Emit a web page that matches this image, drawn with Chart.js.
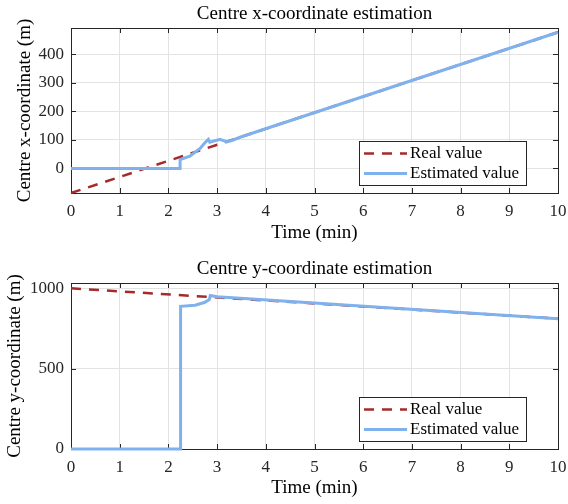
<!DOCTYPE html>
<html>
<head>
<meta charset="utf-8">
<script src="https://cdn.jsdelivr.net/npm/chart.js@4.4.0/dist/chart.umd.min.js"></script>
<style>
  body { margin: 0; background: #fff; }
  .plot { position: absolute; left: 0; width: 568px; height: 252px; }
</style>
</head>
<body>
<div class="plot" style="top:0"><canvas id="xChart" width="568" height="252"></canvas></div>
<div class="plot" style="top:252px"><canvas id="yChart" width="568" height="252"></canvas></div>
<script>
// time axis (minutes)
var timeTicks = [0, 1, 2, 3, 4, 5, 6, 7, 8, 9, 10];

// real trajectory of the centre (straight line)
var realTime = [0, 10];
var realX = [-86, 477];
var realY = [1000, 811];

// estimator output for x
var estTimeX = [0, 2.24, 2.24, 2.44, 2.65, 2.75, 2.82, 2.85, 3.06, 3.2, 3.3, 3.5, 10];
var estX = [0, 0, 31, 43, 70, 90, 102, 92, 102, 93, 98, 111, 477];

// estimator output for y
var estTimeY = [0, 2.25, 2.25, 2.55, 2.75, 2.84, 2.86, 3.0, 10];
var estY = [0, 0, 888, 895, 913, 930, 955, 947, 811];

var xCoordTicks = [0, 100, 200, 300, 400];
var yCoordTicks = [0, 500, 1000];

var serif = '"Liberation Serif", "Times New Roman", serif';
var axisColor = '#262626';

function pairs(ts, vs) {
  return ts.map(function(t, i) { return { x: t, y: vs[i] }; });
}

// box, inward ticks on all four sides and the title
var framePlugin = {
  id: 'frame',
  beforeDatasetsDraw: function(chart) {
    var a = chart.chartArea, ctx = chart.ctx;
    var xs = chart.scales.x, ys = chart.scales.y;
    ctx.save();
    ctx.strokeStyle = axisColor;
    ctx.lineWidth = 1;
    ctx.strokeRect(Math.round(a.left) + 0.5, Math.round(a.top) + 0.5,
      Math.round(a.right - a.left), Math.round(a.bottom - a.top));
    ctx.beginPath();
    xs.ticks.forEach(function(t) {
      var px = Math.round(xs.getPixelForValue(t.value)) + 0.5;
      ctx.moveTo(px, a.bottom); ctx.lineTo(px, a.bottom - 5);
      ctx.moveTo(px, a.top); ctx.lineTo(px, a.top + 5);
    });
    ys.ticks.forEach(function(t) {
      var py = Math.round(ys.getPixelForValue(t.value)) + 0.5;
      ctx.moveTo(a.left, py); ctx.lineTo(a.left + 5, py);
      ctx.moveTo(a.right, py); ctx.lineTo(a.right - 5, py);
    });
    ctx.stroke();
    var title = chart.options.plugins.frame.title;
    ctx.fillStyle = '#000';
    ctx.font = '19px ' + serif;
    ctx.textAlign = 'center';
    ctx.textBaseline = 'middle';
    ctx.fillText(title, (a.left + a.right) / 2, a.top - 14);
    ctx.restore();
  }
};

// boxed legend in the lower right corner of the plot area
var boxLegend = {
  id: 'boxLegend',
  afterDraw: function(chart) {
    var a = chart.chartArea, ctx = chart.ctx;
    var w = 167, h = 44;
    var right = Math.round(a.right) - 32, bottom = Math.round(a.bottom) - 8;
    var left = right - w, top = bottom - h;
    ctx.save();
    ctx.fillStyle = '#fff';
    ctx.fillRect(left, top, w, h);
    ctx.strokeStyle = axisColor;
    ctx.lineWidth = 1;
    ctx.strokeRect(left + 0.5, top + 0.5, w, h);
    ctx.font = '17px ' + serif;
    ctx.textBaseline = 'middle';
    chart.data.datasets.forEach(function(ds, i) {
      var y = top + 12.5 + i * 20;
      ctx.strokeStyle = ds.borderColor;
      ctx.lineWidth = ds.borderWidth;
      ctx.setLineDash(ds.borderDash || []);
      ctx.beginPath();
      ctx.moveTo(left + 5, y);
      ctx.lineTo(left + 48, y);
      ctx.stroke();
      ctx.setLineDash([]);
      ctx.fillStyle = '#000';
      ctx.fillText(ds.label, left + 51, y);
    });
    ctx.restore();
  }
};

function makeChart(id, opts) {
  return new Chart(document.getElementById(id), {
    type: 'line',
    data: {
      datasets: [{
        label: 'Real value',
        data: pairs(realTime, opts.real),
        borderColor: '#a52a2a',
        borderWidth: 2.5,
        borderDash: [10, 8],
        pointRadius: 0,
        fill: false,
        order: 2,
        clip: 4
      }, {
        label: 'Estimated value',
        data: pairs(opts.estTime, opts.est),
        borderColor: '#7fb1ec',
        borderWidth: 3,
        pointRadius: 0,
        fill: false,
        order: 1,
        clip: 4
      }]
    },
    options: {
      responsive: false,
      animation: false,
      layout: { padding: { top: opts.top, right: 10, bottom: 0, left: 0 } },
      plugins: {
        legend: { display: false },
        tooltip: { enabled: false },
        frame: { title: opts.title }
      },
      scales: {
        x: {
          type: 'linear',
          min: 0,
          max: 10,
          afterBuildTicks: function(s) { s.ticks = timeTicks.map(function(v) { return { value: v }; }); },
          afterFit: function(s) { s.height = opts.xHeight; s.paddingLeft = 0; s.paddingRight = 0; },
          grid: { color: '#e3e3e3', drawTicks: false },
          border: { display: false },
          ticks: { color: axisColor, font: { family: serif, size: 17 }, padding: 8, maxRotation: 0 },
          title: { display: true, text: 'Time (min)', color: '#000', font: { family: serif, size: 19 }, padding: opts.xTitlePad }
        },
        y: {
          type: 'linear',
          min: opts.yMin,
          max: opts.yMax,
          afterBuildTicks: function(s) { s.ticks = opts.yTicks.map(function(v) { return { value: v }; }); },
          afterFit: function(s) { s.width = 71; s.paddingTop = 0; s.paddingBottom = 0; },
          grid: { color: '#e3e3e3', drawTicks: false },
          border: { display: false },
          ticks: {
            color: axisColor, font: { family: serif, size: 17 }, padding: 7,
            callback: function(v) { return String(v); }
          },
          title: { display: true, text: opts.yLabel, color: '#000', font: { family: serif, size: 19 }, padding: opts.yTitlePad }
        }
      }
    },
    plugins: [framePlugin, boxLegend]
  });
}

makeChart('xChart', {
  title: 'Centre x-coordinate estimation',
  yLabel: 'Centre x-coordinate (m)',
  real: realX, estTime: estTimeX, est: estX,
  yMin: -86, yMax: 492, yTicks: xCoordTicks,
  top: 28, xHeight: 59, xTitlePad: 7.6, yTitlePad: 13.6
});

makeChart('yChart', {
  title: 'Centre y-coordinate estimation',
  yLabel: 'Centre y-coordinate (m)',
  real: realY, estTime: estTimeY, est: estY,
  yMin: 0, yMax: 1033, yTicks: yCoordTicks,
  top: 31, xHeight: 55, xTitlePad: 4.6, yTitlePad: 3.6
});
</script>
</body>
</html>
